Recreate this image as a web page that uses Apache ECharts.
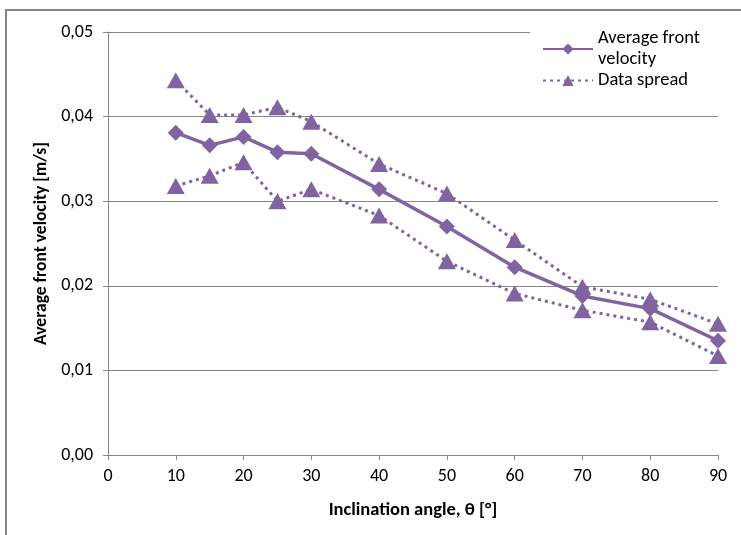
<!DOCTYPE html>
<html>
<head>
<meta charset="utf-8">
<script src="https://cdn.jsdelivr.net/npm/echarts@6/dist/echarts.min.js"></script>
<style>
  html, body { margin: 0; padding: 0; background: #fff; }
  #chart { width: 741px; height: 535px; }
</style>
</head>
<body>
<div id="chart"></div>
<script>
  // inclination angles [deg]
  const angles = [10, 15, 20, 25, 30, 40, 50, 60, 70, 80, 90];
  // average front velocity [m/s]
  const avgVelocity = [0.0381, 0.0366, 0.0376, 0.0358, 0.0356, 0.0314, 0.0270, 0.0222, 0.0188, 0.0173, 0.0135];
  // data spread, upper and lower bounds
  const spreadUpper = [0.0443, 0.0402, 0.0402, 0.0411, 0.0394, 0.0344, 0.0309, 0.0254, 0.0199, 0.0184, 0.0155];
  const spreadLower = [0.0318, 0.0330, 0.0346, 0.0300, 0.0314, 0.0283, 0.0229, 0.0191, 0.0171, 0.0157, 0.0117];

  const purple = '#8064a2';
  const gray = '#868686';
  const font = 'Carlito, "Liberation Sans Narrow", "Open Sans", sans-serif';

  const pairs = (ys) => angles.map((x, i) => [x, ys[i]]);

  const chart = echarts.init(document.getElementById('chart'));
  const option = {
    backgroundColor: '#fff',
    animation: false,
    graphic: [
      {
        type: 'polyline',
        shape: { points: [[6, 535], [6, 10], [741, 10]] },
        style: { stroke: gray, lineWidth: 2, fill: null },
        z: 0,
      },
    ],
    grid: { left: 108, right: 23, top: 32, bottom: 80 },
    legend: {
      orient: 'vertical',
      left: 530,
      top: 26,
      itemWidth: 50,
      itemHeight: 14,
      itemGap: 0,
      backgroundColor: '#fff',
      padding: [2, 20, 2, 12],
      textStyle: { fontFamily: font, fontSize: 18.5, color: '#000', lineHeight: 21 },
      data: ['Average front\nvelocity', 'Data spread'],
    },
    xAxis: {
      type: 'value',
      min: 0,
      max: 90,
      interval: 10,
      name: 'Inclination angle, θ [°]',
      nameLocation: 'middle',
      nameGap: 46,
      nameTextStyle: { fontFamily: font, fontSize: 18.5, fontWeight: 'bold', color: '#000' },
      axisLine: { lineStyle: { color: gray, width: 1 } },
      axisTick: { show: true, length: 5, lineStyle: { color: gray } },
      axisLabel: { fontFamily: font, fontSize: 18, color: '#000', margin: 12 },
      splitLine: { show: false },
    },
    yAxis: {
      type: 'value',
      min: 0,
      max: 0.05,
      interval: 0.01,
      name: 'Average front velocity [m/s]',
      nameLocation: 'middle',
      nameGap: 57,
      nameTextStyle: { fontFamily: font, fontSize: 17.5, fontWeight: 'bold', color: '#000' },
      axisLine: { show: true, lineStyle: { color: gray, width: 1 } },
      axisTick: { show: true, length: 5, lineStyle: { color: gray } },
      axisLabel: {
        fontFamily: font,
        fontSize: 18,
        color: '#000',
        margin: 15,
        formatter: (v) => v.toFixed(2).replace('.', ','),
      },
      splitLine: { show: true, lineStyle: { color: gray, width: 1 } },
    },
    series: [
      {
        name: 'Data spread',
        type: 'line',
        data: pairs(spreadUpper),
        symbol: 'triangle',
        symbolSize: [18, 16],
        itemStyle: { color: purple },
        lineStyle: { color: purple, width: 3, type: [3, 4] },
        z: 3,
      },
      {
        name: 'Data spread',
        type: 'line',
        data: pairs(spreadLower),
        symbol: 'triangle',
        symbolSize: [18, 16],
        itemStyle: { color: purple },
        lineStyle: { color: purple, width: 3, type: [3, 4] },
        z: 3,
      },
      {
        name: 'Average front\nvelocity',
        type: 'line',
        data: pairs(avgVelocity),
        symbol: 'diamond',
        symbolSize: 16,
        itemStyle: { color: purple },
        lineStyle: { color: purple, width: 3.5 },
        z: 4,
      },
    ],
  };
  chart.setOption(option);
</script>
</body>
</html>
